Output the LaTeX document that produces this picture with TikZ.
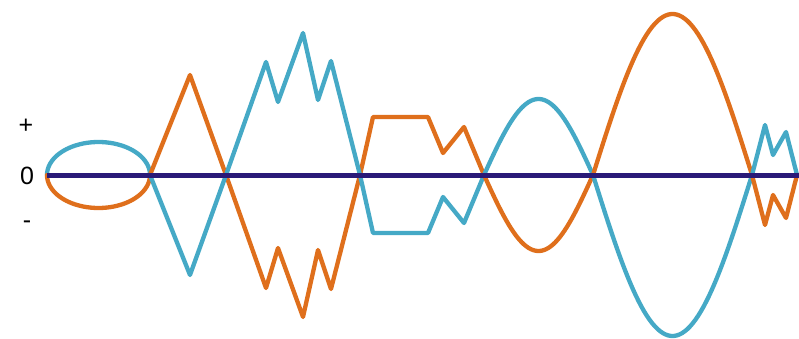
\documentclass[tikz,border=0pt]{standalone}
\usepackage{fontspec}
\setmainfont{Liberation Sans}
\definecolor{cblue}{HTML}{45A9C6}
\definecolor{corange}{HTML}{DF6F1C}
\definecolor{caxis}{HTML}{2A1A78}
\begin{document}
\begin{tikzpicture}[x=1pt,y=-1pt,
  wave/.style={line width=4.3pt,line join=round,line cap=round},
  bluew/.style={wave,draw=cblue},
  orangew/.style={wave,draw=corange},
  lbl/.style={font=\fontsize{25}{28}\selectfont,inner sep=0pt}]
\useasboundingbox (0,0) rectangle (799,339);
% segment 1: ellipse
\draw[bluew] plot[domain=180:0,samples=50] ({98.5+51.5*cos(\x)},{175-33*sin(\x)});
\draw[orangew] plot[domain=180:0,samples=50] ({98.5+51.5*cos(\x)},{175+33*sin(\x)});
% segments 2-4 polylines
\draw[orangew] (150,175) -- (190,75) -- (226,175) -- (266,288) -- (278,248) -- (303,317) -- (318,250) -- (331,289) -- (360,175)
  -- (373,117) -- (428,117) -- (443,153) -- (464,127) -- (484,175);
\draw[bluew] (150,175) -- (190,275) -- (226,175) -- (266,62) -- (278,102) -- (303,33) -- (318,100) -- (331,61) -- (360,175)
  -- (373,233) -- (428,233) -- (443,197) -- (464,223) -- (484,175);
% segment 5
\draw[bluew] plot[domain=0:180,samples=50] ({484+\x/180*109},{175-76*sin(\x)});
\draw[orangew] plot[domain=0:180,samples=50] ({484+\x/180*109},{175+76*sin(\x)});
% segment 6
\draw[orangew] plot[domain=0:180,samples=60] ({593+\x/180*159},{175-161*sin(\x)});
\draw[bluew] plot[domain=0:180,samples=60] ({593+\x/180*159},{175+161*sin(\x)});
% segment 7
\draw[bluew] (752,175) -- (765,125) -- (773,155) -- (786,132) -- (797,175);
\draw[orangew] (752,175) -- (765,225) -- (773,195) -- (786,218) -- (797,175);
% axis
\coordinate (axL) at (47,175);
\coordinate (axR) at (799,175);
\draw[caxis,line width=5pt] (axL) -- (axR);
% labels
\node[lbl] (plus) at (26,126) {+};
\node[lbl] (zero) at (27,176) {0};
\node[lbl] (minus) at (27,225) {-};
\end{tikzpicture}
\end{document}
